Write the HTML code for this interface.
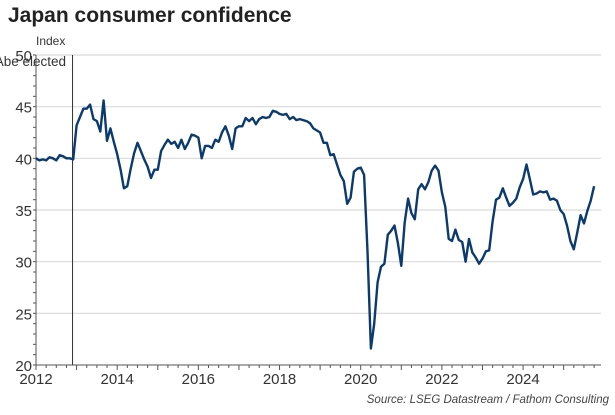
<!DOCTYPE html>
<html><head><meta charset="utf-8"><style>
body{margin:0;background:#fff;font-family:"Liberation Sans",Arial,sans-serif}
svg text{font-family:"Liberation Sans",Arial,sans-serif}
</style></head><body>
<svg id="c" width="615" height="410">
<text x="8" y="22" font-size="21" font-weight="bold" fill="#222">Japan consumer confidence</text>
<text x="36" y="45" font-size="12" fill="#333">Index</text>
<text x="66" y="66" font-size="13.5" fill="#333" text-anchor="end">Abe elected</text>
<g id="grid"></g><g id="axes"></g>
<path id="line" fill="none" stroke="#0b3a6e" stroke-width="2.4" stroke-linejoin="round"></path>
<text x="609" y="403" font-size="11.5" font-style="italic" fill="#444" text-anchor="end">Source: LSEG Datastream / Fathom Consulting</text>
</svg>
<script>
const startYear = 2012;
const yTicks = [20,25,30,35,40,45,50];
const xTicks = [2012,2014,2016,2018,2020,2022,2024];
const eventYear = [2012.9];
const values = [
40.0,39.8,39.9,39.8,40.1,40.0,39.8,40.3,40.2,40.0,40.0,39.9,
43.2,44.0,44.8,44.8,45.2,43.8,43.6,42.6,45.6,41.7,42.9,41.6,
40.4,38.9,37.1,37.3,39.0,40.5,41.5,40.7,39.9,39.2,38.1,38.9,
38.9,40.7,41.3,41.8,41.4,41.6,41.0,41.8,40.9,41.5,42.3,42.2,
42.0,40.0,41.2,41.2,41.0,41.8,41.6,42.5,43.1,42.2,40.9,42.9,
43.1,43.1,43.9,43.6,43.9,43.3,43.8,44.0,43.9,44.0,44.6,44.5,
44.3,44.2,44.3,43.8,44.0,43.7,43.8,43.7,43.6,43.4,42.9,42.7,
42.5,41.5,41.5,40.3,40.4,39.4,38.4,37.8,35.6,36.2,38.7,39.0,
39.1,38.4,31.0,21.6,24.0,28.0,29.5,29.8,32.6,33.0,33.5,31.8,
29.6,33.8,36.1,34.7,34.1,37.0,37.5,37.0,37.7,38.8,39.3,38.8,
36.7,35.3,32.2,32.0,33.1,32.1,31.9,30.0,32.2,30.9,30.4,29.8,
30.3,31.0,31.1,33.9,36.0,36.2,37.1,36.2,35.4,35.7,36.1,37.2,
38.0,39.4,38.0,36.5,36.6,36.8,36.7,36.8,36.0,36.1,35.9,35.0,
34.6,33.5,32.0,31.2,32.8,34.5,33.7,34.9,35.9,37.3
];
const X0=36,X1=601,Y0=365,Y1=55,yMin=20,yMax=50,xMin=2012,xMax=2025.92;
const sx=v=>X0+(v-xMin)/(xMax-xMin)*(X1-X0);
const sy=v=>Y0-(v-yMin)/(yMax-yMin)*(Y0-Y1);
const NS="http://www.w3.org/2000/svg";
function mk(tag,attrs,parent){const e=document.createElementNS(NS,tag);for(const k in attrs)e.setAttribute(k,attrs[k]);parent.appendChild(e);return e;}
const grid=document.getElementById('grid'),axes=document.getElementById('axes');
yTicks.forEach(t=>{
  if(t>yMin){const g=mk('line',{x1:X0,x2:X1,y1:sy(t),y2:sy(t),stroke:'#d9d9d9','stroke-width':1.2},grid);
  
  }
  const tx=mk('text',{x:X0-4,y:sy(t)+6,'font-size':15,'text-anchor':'end',fill:'#333'},axes);
  tx.textContent=t;
  
  
});
for(let v=yMin;v<=yMax;v++){mk('line',{x1:X0-3,x2:X0,y1:sy(v),y2:sy(v),stroke:'#555'},axes);}
for(let q=xMin;q<=xMax;q+=0.25){mk('line',{x1:sx(q),x2:sx(q),y1:Y0,y2:Y0+(q%1===0?5:3),stroke:'#555'},axes);}
xTicks.forEach(t=>{
  const tx=mk('text',{x:sx(t),y:Y0+19,'font-size':15,'text-anchor':'middle',fill:'#333'},axes);
  tx.textContent=t;
  
  
});
const ya=mk('line',{x1:X0,x2:X0,y1:Y1,y2:Y0,stroke:'#555'},axes);


const xa=mk('line',{x1:X0,x2:X1,y1:Y0,y2:Y0,stroke:'#555'},axes);


eventYear.forEach(e=>{
  const l=mk('line',{x1:sx(e),x2:sx(e),y1:Y1,y2:Y0,stroke:'#333'},axes);
  
  
});
document.getElementById('line').setAttribute('d',values.map((v,i)=>(i?'L':'M')+sx(startYear+i/12).toFixed(1)+','+sy(v).toFixed(1)).join(''));
</script>
</body></html>
